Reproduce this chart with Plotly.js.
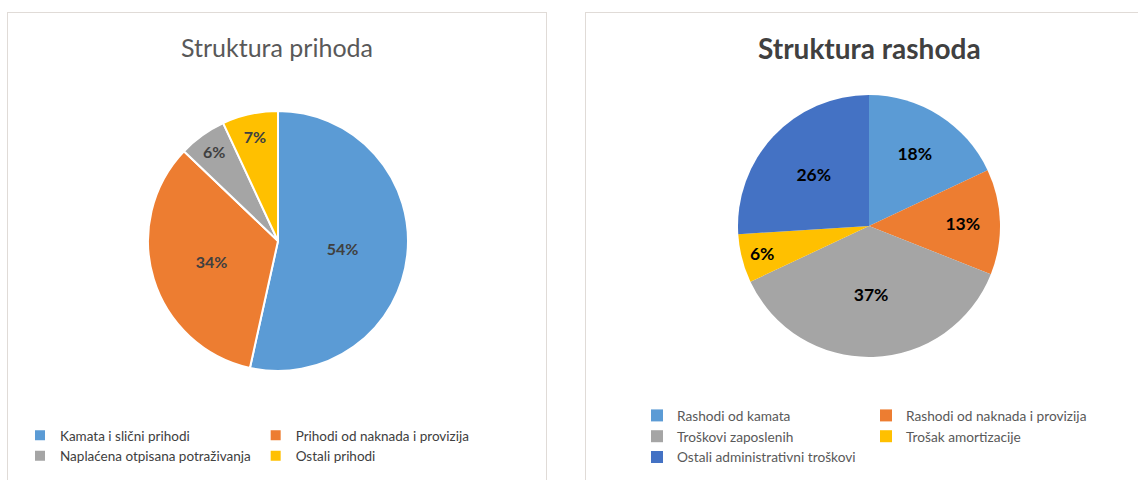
<!DOCTYPE html>
<html>
<head>
<meta charset="utf-8">
<script src="https://cdn.plot.ly/plotly-3.0.1.min.js"></script>
<style>
  html, body { margin: 0; padding: 0; background: #ffffff; width: 1138px; height: 480px; overflow: hidden; }
  .panel { position: absolute; border: 1.5px solid #e0dbd7; box-sizing: border-box; background: #fff; }
  #left { left: 7px; top: 12px; width: 540px; height: 480px; }
  #right { left: 585px; top: 12px; width: 560px; height: 480px; }
</style>
</head>
<body>
<div id="left" class="panel"></div>
<div id="right" class="panel"></div>
<script>
// ---- Data ----
const incomeTitle = "Struktura prihoda";
const incomeLabels = ["Kamata i slični prihodi", "Prihodi od naknada i provizija", "Naplaćena otpisana potraživanja", "Ostali prihodi"];
const incomeValues = [54, 34, 6, 7];

const expenseTitle = "Struktura rashoda";
const expenseLabels = ["Rashodi od kamata", "Rashodi od naknada i provizija", "Troškovi zaposlenih", "Trošak amortizacije", "Ostali administrativni troškovi"];
const expenseValues = [18, 13, 37, 6, 26];

const incomeColors = ["#5B9BD5", "#ED7D31", "#A5A5A5", "#FFC000"];
const expenseColors = ["#5B9BD5", "#ED7D31", "#A5A5A5", "#FFC000", "#4472C4"];

const W1 = 537, H1 = 468;
const W2 = 557, H2 = 468;

// ---- Left chart ----
Plotly.newPlot("left", [{
  type: "pie",
  labels: incomeLabels,
  values: incomeValues,
  sort: false,
  direction: "clockwise",
  rotation: 0,
  marker: { colors: incomeColors, line: { color: "#ffffff", width: 2 } },
  texttemplate: "%{value}%",
  textposition: "inside",
  insidetextorientation: "horizontal",
  textfont: { family: "Lato", size: 16, color: "#404040", weight: "bold" },
  hoverinfo: "none",
  domain: { x: [140 / W1, 400 / W1], y: [(H1 - 358) / H1, (H1 - 98) / H1] }
}], {
  width: W1, height: H1,
  margin: { l: 0, r: 0, t: 0, b: 0 },
  paper_bgcolor: "#ffffff",
  font: { family: "Lato", color: "#595959" },
  uniformtext: { minsize: 16, mode: "show" },
  annotations: [{
    text: incomeTitle, xref: "paper", yref: "paper",
    x: 269 / W1, y: (H1 - 34) / H1, xanchor: "center", yanchor: "middle",
    showarrow: false, font: { family: "Lato", size: 25, color: "#595959" }
  }],
  showlegend: true,
  legend: {
    orientation: "h", x: 12 / W1, xanchor: "left", y: (H1 - 407) / H1, yanchor: "top",
    font: { family: "Lato", size: 13.5, color: "#404040" }, traceorder: "normal"
  }
}, { staticPlot: true });

// ---- Right chart ----
Plotly.newPlot("right", [{
  type: "pie",
  labels: expenseLabels,
  values: expenseValues,
  sort: false,
  direction: "clockwise",
  rotation: 0,
  marker: { colors: expenseColors, line: { width: 0 } },
  texttemplate: "%{value}%",
  textposition: "inside",
  insidetextorientation: "horizontal",
  textfont: { family: "Lato", size: 17.5, color: "#000000", weight: "bold" },
  hoverinfo: "none",
  domain: { x: [152 / W2, 414 / W2], y: [(H2 - 344) / H2, (H2 - 82) / H2] }
}], {
  width: W2, height: H2,
  margin: { l: 0, r: 0, t: 0, b: 0 },
  paper_bgcolor: "#ffffff",
  font: { family: "Lato", color: "#595959" },
  uniformtext: { minsize: 17.5, mode: "show" },
  annotations: [{
    text: "<b>" + expenseTitle + "</b>", xref: "paper", yref: "paper",
    x: 283 / W2, y: (H2 - 35) / H2, xanchor: "center", yanchor: "middle",
    showarrow: false, font: { family: "Lato", size: 28, color: "#404040" }
  }],
  showlegend: true,
  legend: {
    orientation: "h", x: 51 / W2, xanchor: "left", y: (H2 - 387) / H2, yanchor: "top",
    entrywidth: 184, entrywidthmode: "pixels",
    font: { family: "Lato", size: 13.7, color: "#595959" }, traceorder: "normal"
  }
}, { staticPlot: true });
</script>
</body>
</html>
